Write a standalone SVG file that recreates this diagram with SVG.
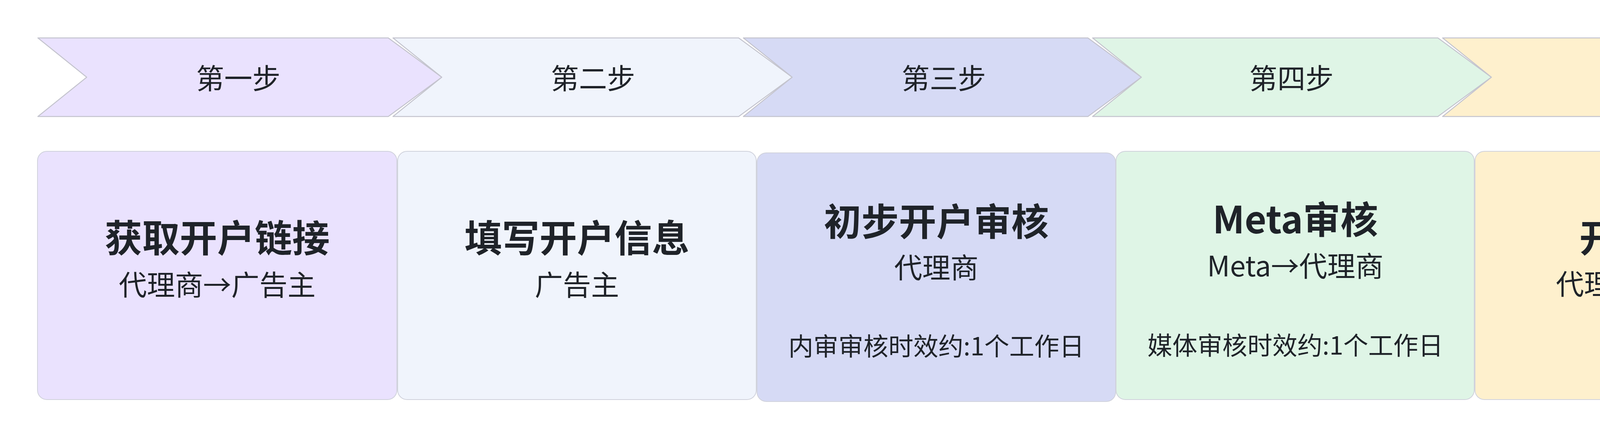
<svg xmlns="http://www.w3.org/2000/svg" width="4832" height="1128" viewBox="0 0 4832 1128">
<style>
.arrow{stroke:#C4C4CE;stroke-width:2.5;stroke-linejoin:round}
.card{stroke:#D0D2DC;stroke-width:2}
text{font-family:"Noto Sans CJK SC","Noto Sans",sans-serif;fill:#1F2329;text-anchor:middle}
.step{font-size:72px;font-weight:400}
.title{font-size:96px;font-weight:700}
.sub{font-size:72px;font-weight:400}
.note{font-size:64px;font-weight:400}
.c1{fill:#EAE2FE}.c2{fill:#F0F4FC}.c3{fill:#D6DAF5}.c4{fill:#DFF5E6}.c5{fill:#FEF0CD}
</style>
<rect x="0" y="0" width="4832" height="1128" fill="#FFFFFF"/>
<g id="connectors"></g>
<g id="step1">
<path class="arrow c1" d="M97,97 H994 L1131,197.5 L994,298 H97 L222,197.5 Z"/>
<text class="step" x="610" y="227">第一步</text>
</g>
<g id="step2">
<path class="arrow c2" d="M1006,97 H1891 L2028,197.5 L1891,298 H1006 L1131,197.5 Z"/>
<text class="step" x="1518" y="227">第二步</text>
</g>
<g id="step3">
<path class="arrow c3" d="M1903,97 H2785 L2922,197.5 L2785,298 H1903 L2028,197.5 Z"/>
<text class="step" x="2416" y="227">第三步</text>
</g>
<g id="step4">
<path class="arrow c4" d="M2797,97 H3681 L3818,197.5 L3681,298 H2797 L2922,197.5 Z"/>
<text class="step" x="3306" y="227">第四步</text>
</g>
<g id="step5">
<path class="arrow c5" d="M3693,97 H4590 L4730,197.5 L4590,298 H3693 L3818,197.5 Z"/>
<text class="step" x="4207" y="227">第五步</text>
</g>
<g id="card1">
<rect class="card c1" x="96" y="387" width="920" height="635" rx="24"/>
<text class="title" x="556" y="644">获取开户链接</text>
<text class="sub" x="556" y="755">代理商→广告主</text>
</g>
<g id="card2">
<rect class="card c2" x="1018" y="387" width="918" height="635" rx="24"/>
<text class="title" x="1477" y="644">填写开户信息</text>
<text class="sub" x="1477" y="755">广告主</text>
</g>
<g id="card3">
<rect class="card c3" x="1938" y="391" width="918" height="636" rx="24"/>
<text class="title" x="2397" y="602">初步开户审核</text>
<text class="sub" x="2397" y="711">代理商</text>
<text class="note" x="2397" y="909">内审审核时效约:1个工作日</text>
</g>
<g id="card4">
<rect class="card c4" x="2857" y="387" width="917" height="635" rx="24"/>
<text class="title" x="3316" y="597">Meta审核</text>
<text class="sub" x="3316" y="707">Meta→代理商</text>
<text class="note" x="3316" y="907">媒体审核时效约:1个工作日</text>
</g>
<g id="card5">
<rect class="card c5" x="3776" y="387" width="918" height="635" rx="24"/>
<text class="title" x="4235" y="644">开户完成</text>
<text class="sub" x="4235" y="753">代理商→广告主</text>
</g>
</svg>
